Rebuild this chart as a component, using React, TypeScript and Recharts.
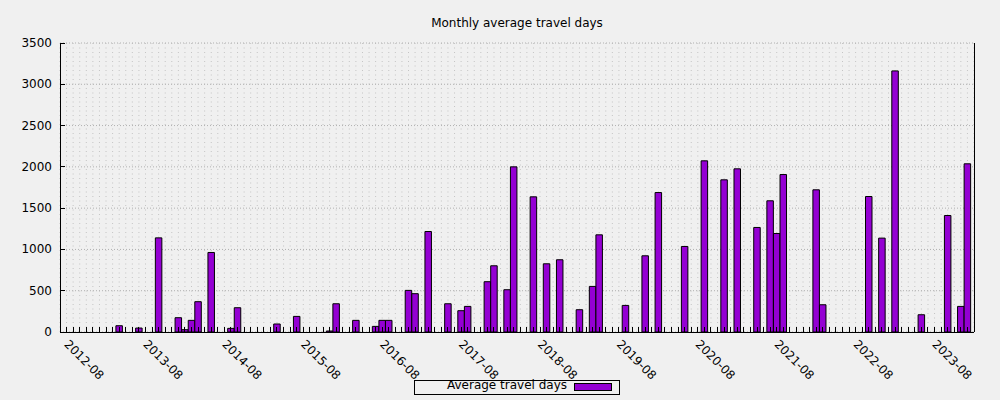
import { BarChart, Bar, XAxis, YAxis, CartesianGrid } from "recharts";

// months with travel, and their values (months not listed are 0)
const barMonths = [
  "2013-04", "2013-07", "2013-10", "2014-01", "2014-02", "2014-03", "2014-04", "2014-06",
  "2014-09", "2014-10", "2015-04", "2015-07", "2015-12", "2016-01", "2016-04", "2016-07",
  "2016-08", "2016-09", "2016-12", "2017-01", "2017-03", "2017-06", "2017-08", "2017-09",
  "2017-12", "2018-01", "2018-03", "2018-04", "2018-07", "2018-09", "2018-11", "2019-02",
  "2019-04", "2019-05", "2019-09", "2019-12", "2020-02", "2020-06", "2020-09", "2020-12",
  "2021-02", "2021-05", "2021-07", "2021-08", "2021-09", "2022-02", "2022-03", "2022-10",
  "2022-12", "2023-02", "2023-06", "2023-10", "2023-12", "2024-01",
];
const barValues = [
  76, 48, 1140, 173, 28, 141, 367, 963,
  44, 294, 97, 189, 12, 342, 141, 68,
  141, 141, 504, 464, 1217, 342, 258, 310,
  609, 802, 512, 2000, 1637, 826, 875, 270,
  552, 1177, 322, 923, 1689, 1036, 2073, 1843,
  1976, 1266, 1589, 1193, 1907, 1722, 330, 1641,
  1137, 3162, 209, 1411, 310, 2037,
];

const yearLabels = [
  "2012-08", "2013-08", "2014-08", "2015-08", "2016-08", "2017-08",
  "2018-08", "2019-08", "2020-08", "2021-08", "2022-08", "2023-08",
];
const yTicks = [0, 500, 1000, 1500, 2000, 2500, 3000, 3500];

const FONT = "'DejaVu Sans', sans-serif";
const BAR_COLOR = "#9400d3";

// month offset from 2012-08
const monthIndex = (m: string) => {
  const [y, mo] = m.split("-").map(Number);
  return (y - 2012) * 12 + (mo - 8);
};

const data = barMonths.map((m, i) => ({ x: monthIndex(m), value: barValues[i] }));
const labelAt = new Map(yearLabels.map((l) => [monthIndex(l), l]));
const monthTicks = Array.from({ length: 140 }, (_, i) => i - 1);

const XTick = ({ x, y, payload }: any) => {
  const label = labelAt.get(payload.value);
  return (
    <g>
      <line x1={x} y1={y} x2={x} y2={y - 5} stroke="#000" shapeRendering="crispEdges" />
      {label && (
        <text
          x={x - 3}
          y={y + 13}
          transform={`rotate(45, ${x - 3}, ${y + 13})`}
          textAnchor="start"
          fontSize={12}
          fontFamily={FONT}
          fill="#000"
        >
          {label}
        </text>
      )}
    </g>
  );
};

const YTickLeft = ({ x, y, payload }: any) => (
  <g>
    <line x1={x} y1={y} x2={x + 5} y2={y} stroke="#000" shapeRendering="crispEdges" />
    <text x={x - 8} y={y + 4} textAnchor="end" fontSize={12} fontFamily={FONT} fill="#000">
      {payload.value}
    </text>
  </g>
);

const YTickRight = ({ x, y }: any) => (
  <line x1={x - 5} y1={y} x2={x} y2={y} stroke="#000" shapeRendering="crispEdges" />
);

export default function App() {
  return (
    <div
      style={{
        position: "absolute",
        left: 0,
        top: 0,
        width: 1000,
        height: 400,
        background: "#f0f0f0",
        fontFamily: FONT,
      }}
    >
      <div
        style={{
          position: "absolute",
          top: 16,
          left: 60,
          width: 914,
          textAlign: "center",
          fontSize: 12,
          lineHeight: "14px",
          color: "#000",
        }}
      >
        Monthly average travel days
      </div>

      <BarChart width={1000} height={400} data={data} margin={{ top: 43, right: 0, bottom: 0, left: 0 }}>
        <CartesianGrid
          xAxisId="bottom"
          yAxisId="left"
          horizontal={false}
          stroke="#c4c4c4"
          strokeDasharray="1 3.5"
        />
        <CartesianGrid
          xAxisId="bottom"
          yAxisId="left"
          vertical={false}
          stroke="#b0b0b0"
          strokeDasharray="1 2"
        />
        <XAxis
          xAxisId="bottom"
          dataKey="x"
          type="number"
          scale="linear"
          domain={[-1, 138]}
          allowDataOverflow
          ticks={monthTicks}
          interval={0}
          height={68}
          tickSize={0}
          tickMargin={0}
          tick={<XTick />}
          axisLine={{ stroke: "#000", shapeRendering: "crispEdges" }}
        />
        <XAxis
          xAxisId="top"
          orientation="top"
          type="number"
          domain={[-1, 138]}
          height={0}
          tick={false}
          tickLine={false}
          axisLine={{ stroke: "#000", shapeRendering: "crispEdges" }}
        />
        <YAxis
          yAxisId="left"
          domain={[0, 3500]}
          ticks={yTicks}
          interval={0}
          width={60}
          tickSize={0}
          tickMargin={0}
          tick={<YTickLeft />}
          axisLine={{ stroke: "#000", shapeRendering: "crispEdges" }}
        />
        <YAxis
          yAxisId="right"
          orientation="right"
          domain={[0, 3500]}
          ticks={yTicks}
          interval={0}
          width={26}
          tickSize={0}
          tickMargin={0}
          tick={<YTickRight />}
          axisLine={{ stroke: "#000", shapeRendering: "crispEdges" }}
        />
        <Bar
          xAxisId="bottom"
          yAxisId="left"
          dataKey="value"
          name="Average travel days"
          fill={BAR_COLOR}
          stroke="#000"
          strokeWidth={1}
          barSize={6.5}
          isAnimationActive={false}
        />
      </BarChart>

      {/* legend box */}
      <div
        style={{
          position: "absolute",
          left: 414,
          top: 380,
          width: 206,
          height: 15,
          boxSizing: "border-box",
          border: "1px solid #000",
        }}
      />
      <div
        style={{
          position: "absolute",
          left: 400,
          top: 378,
          width: 167,
          textAlign: "right",
          fontSize: 12,
          lineHeight: "14px",
          color: "#000",
        }}
      >
        Average travel days
      </div>
      <div
        style={{
          position: "absolute",
          left: 574,
          top: 383,
          width: 38,
          height: 8,
          boxSizing: "border-box",
          border: "1px solid #000",
          background: BAR_COLOR,
        }}
      />
    </div>
  );
}
